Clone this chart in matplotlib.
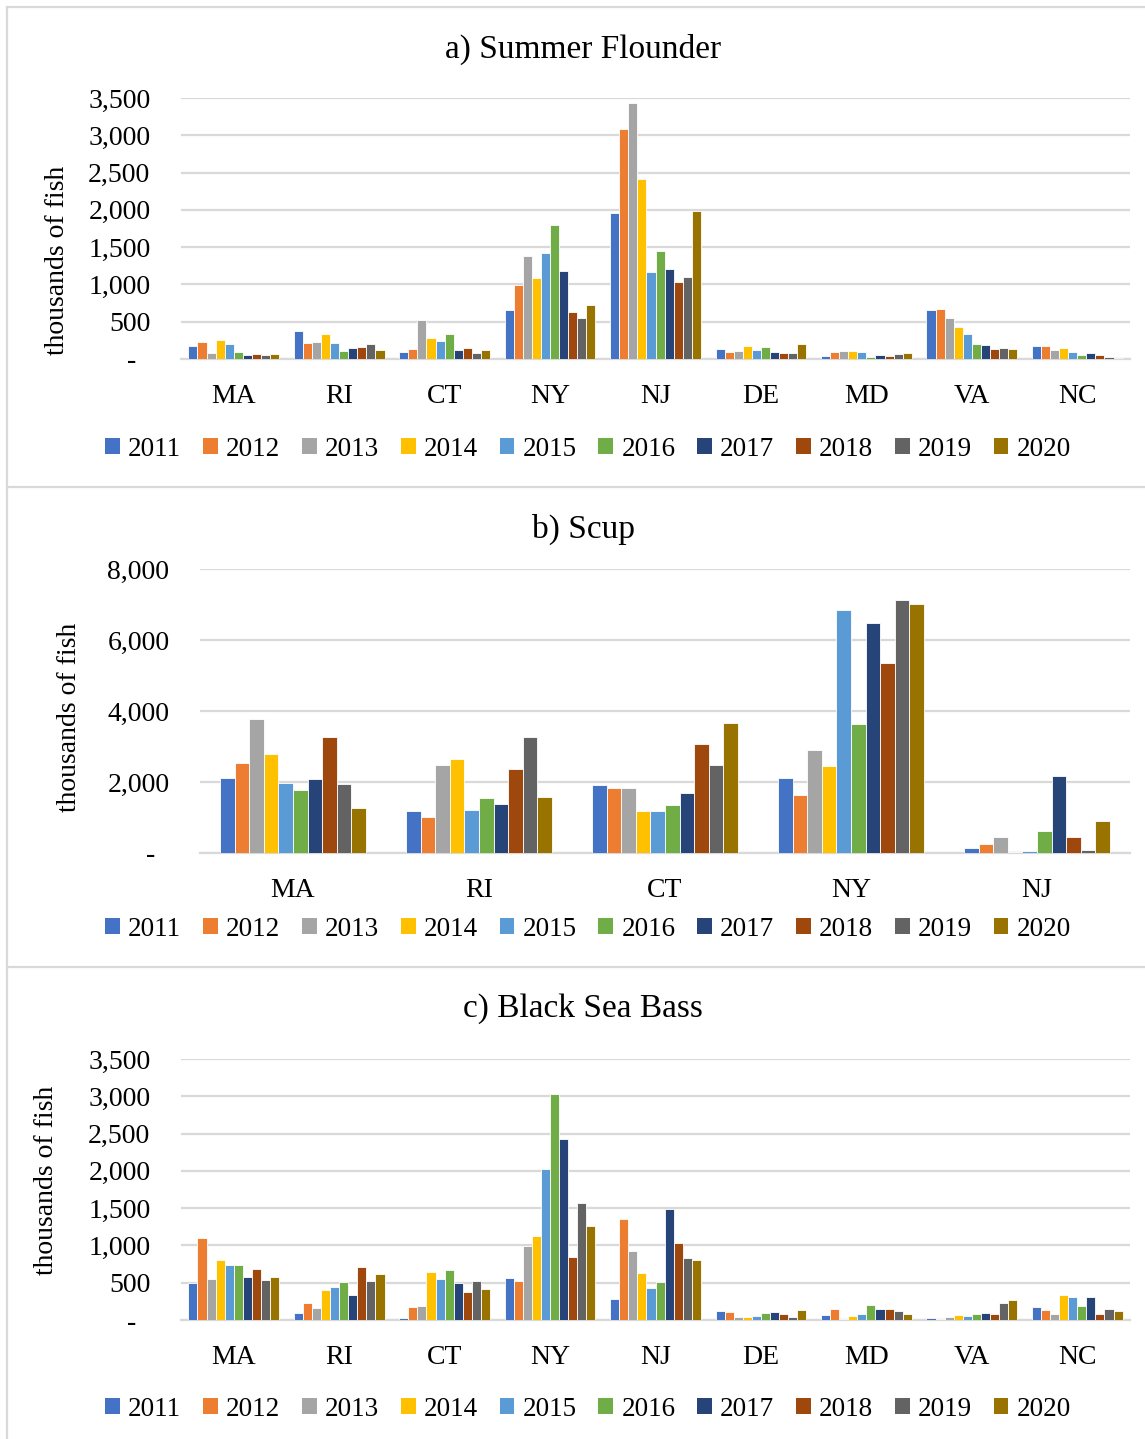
import matplotlib
matplotlib.use("Agg")
import matplotlib.pyplot as plt
from matplotlib.patches import Patch
from matplotlib.lines import Line2D
from matplotlib.ticker import FuncFormatter
import numpy as np

# ---------------------------------------
# Data (thousands of fish), rows = states, cols = years
# ---------------------------------------
years = ["2011", "2012", "2013", "2014", "2015", "2016", "2017", "2018", "2019", "2020"]
year_colors = ["#4472C4", "#ED7D31", "#A5A5A5", "#FFC000", "#5B9BD5",
               "#70AD47", "#264478", "#9E480E", "#636363", "#997300"]

states_long = ["MA", "RI", "CT", "NY", "NJ", "DE", "MD", "VA", "NC"]
states_scup = ["MA", "RI", "CT", "NY", "NJ"]

flounder = [
    [180, 230, 77, 257, 207, 99, 59, 63, 50, 68],
    [378, 220, 225, 338, 216, 108, 153, 167, 207, 117],
    [95, 130, 527, 275, 248, 333, 117, 149, 81, 122],
    [651, 997, 1378, 1082, 1428, 1791, 1176, 633, 552, 723],
    [1962, 3080, 3439, 2411, 1167, 1446, 1203, 1037, 1100, 1980],
    [135, 99, 113, 180, 117, 167, 99, 86, 86, 203],
    [40, 99, 113, 113, 99, 32, 54, 45, 72, 77],
    [658, 676, 554, 432, 329, 207, 185, 140, 149, 140],
    [180, 176, 117, 144, 99, 59, 86, 54, 32, 18],
]

scup = [
    [2122, 2547, 3783, 2802, 1972, 1783, 2085, 3264, 1953, 1274],
    [1189, 1019, 2481, 2660, 1217, 1547, 1377, 2368, 3274, 1575],
    [1925, 1830, 1830, 1170, 1170, 1340, 1689, 3075, 2481, 3670],
    [2120, 1620, 2892, 2449, 6858, 3636, 6481, 5360, 7121, 7027],
    [141, 245, 443, 19, 66, 631, 2167, 443, 75, 914],
]

sea_bass = [
    [500, 1099, 549, 811, 739, 739, 572, 680, 532, 577],
    [99, 225, 158, 405, 437, 509, 329, 712, 523, 617],
    [23, 180, 194, 640, 550, 671, 491, 378, 523, 414],
    [561, 521, 992, 1127, 2020, 3031, 2429, 844, 1571, 1266],
    [278, 1356, 929, 633, 431, 512, 1495, 1033, 826, 808],
    [122, 104, 45, 41, 54, 95, 113, 86, 41, 135],
    [72, 153, 18, 59, 86, 207, 144, 149, 126, 77],
    [27, 14, 41, 72, 59, 77, 99, 86, 230, 270],
    [171, 131, 86, 329, 315, 189, 315, 86, 149, 126],
]

# ---------------------------------------
# Figure setup
# ---------------------------------------
W, H = 1145, 1439
plt.rcParams["font.family"] = ["Liberation Serif", "DejaVu Serif"]
fig = plt.figure(figsize=(W / 100, H / 100), dpi=100)
fig.patch.set_facecolor("white")

GRID = "#D9D9D9"
FS = 20


def fx(px):
    return px / W


def fy(py):
    return 1 - py / H


def fmt(v, pos):
    if v == 0:
        return "-  "
    return f"{int(v):,}"


def draw_panel(left, top_px, bottom_px, title, title_y, ylabel_x, ylabel_y,
               states, data, ymax, ystep, group_frac, legend_y):
    ax = fig.add_axes([fx(left), fy(bottom_px), fx(1130) - fx(left),
                       fy(top_px) - fy(bottom_px)])
    arr = np.array(data)
    n = len(states)
    x = np.arange(n)
    step = group_frac / len(years)
    for j, (yr, col) in enumerate(zip(years, year_colors)):
        offs = (j - (len(years) - 1) / 2) * step
        ax.bar(x + offs, arr[:, j], width=step, color=col, edgecolor="white",
               linewidth=0.6, zorder=3)
    ax.set_xlim(-0.5, n - 0.5)
    ax.set_ylim(0, ymax)
    ax.set_yticks(np.arange(0, ymax + 1, ystep))
    ax.yaxis.set_major_formatter(FuncFormatter(fmt))
    ax.set_xticks(x)
    ax.set_xticklabels(states)
    ax.tick_params(axis="both", length=0, labelsize=FS)
    ax.tick_params(axis="y", pad=22)
    ax.tick_params(axis="x", pad=18)
    ax.grid(axis="y", color=GRID, linewidth=1.6, zorder=0)
    for s in ["top", "left", "right"]:
        ax.spines[s].set_visible(False)
    ax.spines["bottom"].set_color(GRID)
    ax.spines["bottom"].set_linewidth(1.6)

    fig.text(fx(583), fy(title_y), title, ha="center", va="center", fontsize=24)
    fig.text(fx(ylabel_x), fy(ylabel_y), "thousands of fish",
             ha="center", va="center", rotation=90, fontsize=FS)

    handles = [Patch(facecolor=c, edgecolor="none") for c in year_colors]
    fig.legend(handles, years, loc="center", bbox_to_anchor=(fx(588), fy(legend_y)),
               ncol=10, frameon=False, fontsize=19.5, handlelength=0.55,
               handleheight=0.55, handletextpad=0.3, columnspacing=0.8,
               borderpad=0, borderaxespad=0)
    return ax


draw_panel(181, 98, 359, "a) Summer Flounder", 49, 58, 260, states_long, flounder,
           3500, 500, 0.86, 449)
draw_panel(200, 569, 853, "b) Scup", 529, 70, 717, states_scup, scup,
           8000, 2000, 0.78, 929)
draw_panel(181, 1059, 1320, "c) Black Sea Bass", 1009, 47, 1180, states_long, sea_bass,
           3500, 500, 0.86, 1409)

# panel frames
for yy in [7, 487, 967]:
    fig.add_artist(Line2D([fx(7), 1], [fy(yy), fy(yy)], color=GRID, linewidth=1.6))
fig.add_artist(Line2D([fx(7), fx(7)], [fy(7), 0], color=GRID, linewidth=1.6))

fig.savefig("out.png", dpi=100)
